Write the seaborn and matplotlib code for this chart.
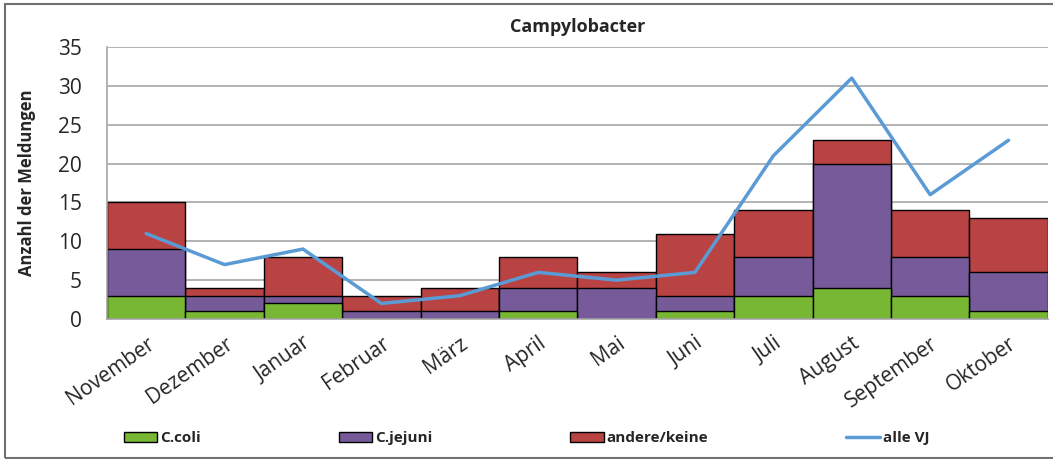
import numpy as np
import pandas as pd
import matplotlib
matplotlib.use('Agg')
import matplotlib.pyplot as plt
import seaborn as sns
from matplotlib.patches import Patch, Rectangle
from matplotlib.lines import Line2D

months = ['November', 'Dezember', 'Januar', 'Februar', 'März', 'April',
          'Mai', 'Juni', 'Juli', 'August', 'September', 'Oktober']
c_coli = [3, 1, 2, 0, 0, 1, 0, 1, 3, 4, 3, 1]
c_jejuni = [6, 2, 1, 1, 1, 3, 4, 2, 5, 16, 5, 5]
andere = [6, 1, 5, 2, 3, 4, 2, 8, 6, 3, 6, 7]
alle_vj = [11, 7, 9, 2, 3, 6, 5, 6, 21, 31, 16, 23]

green = '#77b733'
purple = '#775a99'
red = '#b94343'
blue = '#5b9bd5'

sns.set_style('white')
plt.rcParams['font.family'] = ['Open Sans', 'DejaVu Sans']

df = pd.DataFrame({'Monat': months, 'coli': c_coli, 'jejuni': c_jejuni,
                   'andere': andere, 'vj': alle_vj})
df['s2'] = df['coli'] + df['jejuni']
df['s3'] = df['s2'] + df['andere']

fig = plt.figure(figsize=(10.53, 4.59), dpi=100)
ax = fig.add_axes([0.1016, 0.305, 0.8934, 0.5926])

# gestapelte Balken durch Überlagerung der kumulierten Summen
for col, c in [('s3', red), ('s2', purple), ('coli', green)]:
    sns.barplot(data=df, x='Monat', y=col, color=c, width=1.0, saturation=1,
                edgecolor='black', linewidth=1, ax=ax, zorder=2)

sns.lineplot(x=np.arange(len(months)), y=df['vj'], color=blue, linewidth=2.5,
             sort=False, ax=ax, zorder=3)

ax.set_xlim(-0.5, 11.5)
ax.set_ylim(0, 35)
ax.set_yticks(range(0, 36, 5))
ax.yaxis.grid(True, color='#a6a6a6', linewidth=1.2, zorder=0)
ax.set_axisbelow(True)
ax.set_xlabel('')
ax.set_ylabel('Anzahl der Meldungen', fontsize=12, fontweight='bold', labelpad=16)
ax.set_title('Campylobacter', fontsize=13, fontweight='bold', pad=11)

ax.set_xticks(range(len(months)))
ax.set_xticklabels(months, rotation=35, ha='right', rotation_mode='anchor', fontsize=15)
ax.set_xticks(np.arange(-0.5, 12, 1), minor=True)
ax.tick_params(axis='x', which='major', length=0, pad=10)
ax.tick_params(axis='x', which='minor', length=8, color='#a6a6a6', width=1)
ax.tick_params(axis='y', labelsize=15, length=9, color='#a6a6a6', width=1, pad=9)

for s in ['top', 'right']:
    ax.spines[s].set_visible(False)
for s in ['left', 'bottom']:
    ax.spines[s].set_color('#a6a6a6')
    ax.spines[s].set_linewidth(1.2)

handles = [Patch(facecolor=green, edgecolor='black', label='C.coli'),
           Patch(facecolor=purple, edgecolor='black', label='C.jejuni'),
           Patch(facecolor=red, edgecolor='black', label='andere/keine'),
           Line2D([0], [0], color=blue, linewidth=2.5, label='alle VJ')]
fig.legend(handles=handles, loc='center', bbox_to_anchor=(0.5, 0.045), ncol=4,
           frameon=False, columnspacing=9, handlelength=2.2,
           handleheight=0.7, handletextpad=0.2,
           prop={'weight': 'bold', 'size': 11})

fig.patches.append(Rectangle((0.005, 0.003), 1.1, 0.988, transform=fig.transFigure,
                             fill=False, edgecolor='#707070', linewidth=1.5))

fig.savefig('out.png', dpi=100)
